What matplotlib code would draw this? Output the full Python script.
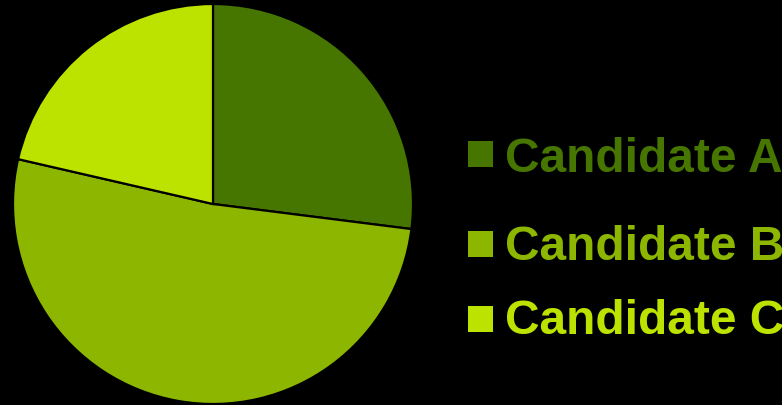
import matplotlib
matplotlib.use("Agg")
import matplotlib.pyplot as plt
from matplotlib.patches import Rectangle

categories = ["Candidate A", "Candidate B", "Candidate C"]
values = [27.0, 51.6, 21.4]
colors = ["#467600", "#8cb600", "#bce300"]

W, H = 782, 406
fig = plt.figure(figsize=(W / 100, H / 100), dpi=100, facecolor="black")

# pie axes: centre (213,205), radius 200 px
cx, cy, r = 213, 205, 200
ax = fig.add_axes([(cx - r) / W, (H - cy - r) / H, 2 * r / W, 2 * r / H])
ax.set_facecolor("black")
ax.pie(values, colors=colors, startangle=90, counterclock=False,
       wedgeprops=dict(edgecolor="black", linewidth=1.6), radius=1)
ax.set_xlim(-1, 1)
ax.set_ylim(-1, 1)
ax.set_aspect("equal")
ax.axis("off")

# legend drawn manually (uneven row spacing in the reference)
marker_cy = [154.5, 245, 320]
baselines = [172, 260, 334]
for name, col, my, by in zip(categories, colors, marker_cy, baselines):
    fig.patches.append(Rectangle((468 / W, (H - my - 13) / H), 25 / W, 26 / H,
                                 transform=fig.transFigure, facecolor=col,
                                 edgecolor="none"))
    fig.text(505 / W, (H - by) / H, name, color=col, fontsize=34.5,
             fontweight="bold", family="Liberation Sans", va="baseline", ha="left")

fig.savefig("out.png", dpi=100, facecolor="black")
